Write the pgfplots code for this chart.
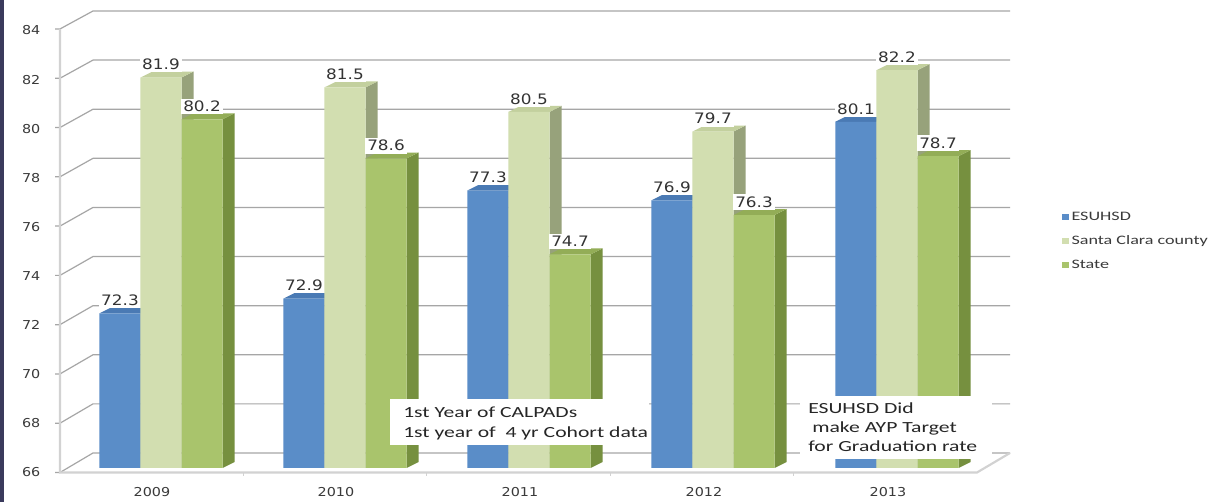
\documentclass[border=0pt]{standalone}
\usepackage{fontspec}
\setmainfont{Carlito}
\usepackage{pgfplots}
\pgfplotsset{compat=1.18}
\usepackage{pgfplotstable}
\newfontfamily\dvfont[FakeStretch=1.17]{DejaVu Sans}
\newfontfamily\calfont[FakeStretch=1.4]{Carlito}
\definecolor{frameC}{HTML}{3A3A5C}
\definecolor{gridC}{HTML}{A6A6A6}
\definecolor{axC}{HTML}{D2D2D2}
\definecolor{tickC}{HTML}{3A3A3A}
\definecolor{blueF}{HTML}{5A8DC8}
\definecolor{blueS}{HTML}{3A679B}
\definecolor{blueT}{HTML}{4A7AB4}
\definecolor{lightF}{HTML}{D2DEB0}
\definecolor{lightS}{HTML}{97A27B}
\definecolor{lightT}{HTML}{C3D09E}
\definecolor{greenF}{HTML}{A9C46C}
\definecolor{greenS}{HTML}{76903F}
\definecolor{greenT}{HTML}{93AD57}

\pgfplotstableread{
x esuhsd santa state
0 72.3 81.9 80.2
1 72.9 81.5 78.6
2 77.3 80.5 74.7
3 76.9 79.7 76.3
4 80.1 82.2 78.7
}\datatable

% side and top faces of the 3D bars, derived from the table values
\newcommand\sidefaces[4]{%
  \pgfplotsforeachungrouped \rowidx in {0,...,4}{%
    \pgfplotstablegetelem{\rowidx}{#1}\of\datatable
    \pgfmathsetmacro\vv{\pgfplotsretval}%
    \pgfmathsetmacro\xl{\rowidx+(#2)-0.1115}%
    \pgfmathsetmacro\xr{\rowidx+(#2)+0.1115}%
    \pgfmathsetmacro\xll{\xl+0.0652}%
    \pgfmathsetmacro\xrr{\xr+0.0652}%
    \pgfmathsetmacro\vt{\vv+0.244}%
    \edef\tmp{\noexpand\addplot[forget plot, fill=#3, draw=none] coordinates {(\xr,66) (\xrr,66.244) (\xrr,\vt) (\xr,\vv)};
      \noexpand\addplot[forget plot, fill=#4, draw=none] coordinates {(\xl,\vv) (\xll,\vt) (\xrr,\vt) (\xr,\vv)};}%
    \tmp
  }%
}

\begin{document}
\begin{tikzpicture}
\path[use as bounding box, fill=white] (0,0) rectangle (918.75pt,376.5pt);
\fill[frameC] (0,0) rectangle (3pt,376.5pt);
\begin{scope}[yshift=376.5pt, x=0.75pt, y=-0.75pt]
  \foreach \v in {66,68,...,84}{
    \draw[gridC, line width=0.9pt] (55,{472.5-(\v-66)*24.64}) -- (60,{472.5-(\v-66)*24.64}) -- (93,{453-(\v-66)*24.556}) -- (1010,{453-(\v-66)*24.556});
  }
  \draw[axC, line width=1.6pt] (60,29) -- (60,472.5) -- (977,472.5) -- (1010,453);
  \foreach \k in {1,...,4}{
    \draw[axC, line width=1pt] ({60+183.4*\k},472.5) -- ({60+183.4*\k},476);
  }
\end{scope}

\begin{axis}[
  at={(51.75pt,25.5pt)}, anchor=south west,
  scale only axis, width=690pt, height=331.5pt,
  xmin=-0.5, xmax=4.5, ymin=66, ymax=84,
  clip mode=individual,
  axis line style={draw=none},
  tick style={draw=none},
  ytick={66,68,...,84},
  yticklabels={66,68,70,72,74,76,78,80,82,84},
  xtick={0,1,2,3,4},
  xticklabels={2009,2010,2011,2012,2013},
  yticklabel style={font=\dvfont\fontsize{9.2}{10}\selectfont, text=tickC, xshift=-18pt, yshift=-3.4pt},
  xticklabel style={font=\dvfont\fontsize{9.2}{10}\selectfont, text=tickC, xshift=-6.75pt, yshift=-11pt},
  legend style={at={(1.0793,0.5136)}, anchor=west, draw=none, fill=none,
    font=\calfont\fontsize{9.7}{11}\selectfont, text=tickC, inner sep=0pt, row sep=6pt,
    cells={anchor=west}},
  every node near coord/.append style={font=\dvfont\fontsize{10.8}{12}\selectfont, text=black!80, fill=white, inner sep=1.8pt, yshift=3.6pt},
  /pgf/number format/.cd, fixed, fixed zerofill, precision=1, assume math mode=true,
]
\sidefaces{esuhsd}{-0.223}{blueS}{blueT}
\addplot[ybar, bar width=0.223, bar shift=-0.223, fill=blueF, draw=none,
  legend image code/.code={\fill[blueF] (0pt,-2.5pt) rectangle (5pt,2.5pt);},
  nodes near coords, every node near coord/.append style={xshift=-30.77pt}] table[x=x, y=esuhsd] {\datatable};
\addlegendentry{ESUHSD}
\sidefaces{santa}{0}{lightS}{lightT}
\addplot[ybar, bar width=0.223, bar shift=0, fill=lightF, draw=none,
  legend image code/.code={\fill[lightF] (0pt,-2.5pt) rectangle (5pt,2.5pt);},
  nodes near coords] table[x=x, y=santa] {\datatable};
\addlegendentry{Santa Clara county}
\sidefaces{state}{0.223}{greenS}{greenT}
\addplot[ybar, bar width=0.223, bar shift=0.223, fill=greenF, draw=none,
  legend image code/.code={\fill[greenF] (0pt,-2.5pt) rectangle (5pt,2.5pt);},
  nodes near coords, every node near coord/.append style={xshift=30.77pt}] table[x=x, y=state] {\datatable};
\addlegendentry{State}
\end{axis}

\begin{scope}[yshift=376.5pt, x=0.75pt, y=-0.75pt]
  \fill[white] (390,399) rectangle (649,445);
  \node[anchor=base west, inner sep=0pt, font=\calfont\fontsize{11.6}{15}\selectfont, text=black!85] at (403,418) {1st Year of CALPADs};
  \node[anchor=base west, inner sep=0pt, font=\calfont\fontsize{11.6}{15}\selectfont, text=black!85] at (403,438) {1st year of\ \ 4 yr Cohort data};
  \fill[white] (800,396) rectangle (992,459);
  \node[anchor=base west, inner sep=0pt, font=\calfont\fontsize{11.6}{15}\selectfont, text=black!85] at (808,414) {ESUHSD Did};
  \node[anchor=base west, inner sep=0pt, font=\calfont\fontsize{11.6}{15}\selectfont, text=black!85] at (812,433) {make AYP Target};
  \node[anchor=base west, inner sep=0pt, font=\calfont\fontsize{11.6}{15}\selectfont, text=black!85] at (808,452) {for Graduation rate};
\end{scope}
\end{tikzpicture}
\end{document}
